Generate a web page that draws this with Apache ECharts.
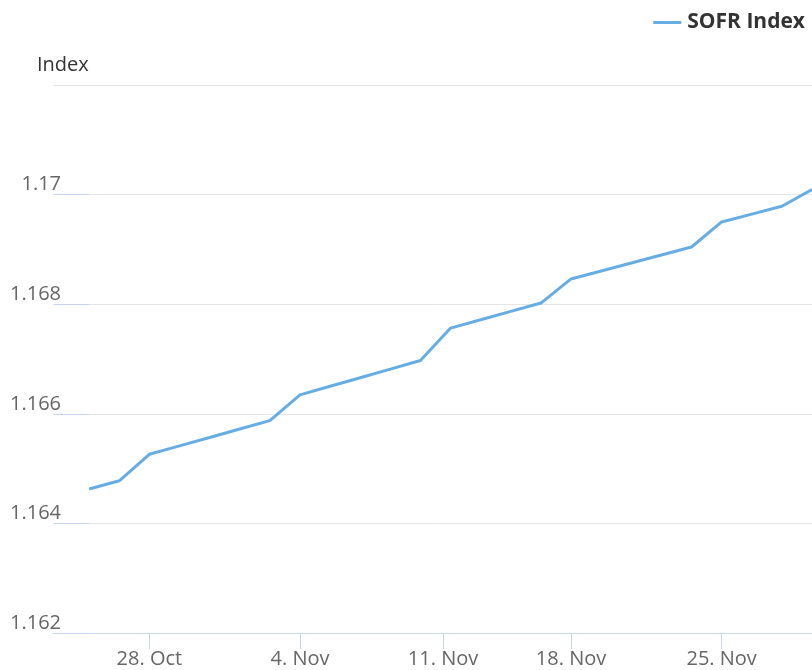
<!DOCTYPE html>
<html>
<head>
<meta charset="utf-8">
<script src="https://cdn.jsdelivr.net/npm/echarts@6/dist/echarts.min.js"></script>
<style>
  html, body { margin: 0; padding: 0; background: #fff; }
  #chart { width: 812px; height: 670px; }
</style>
</head>
<body>
<div id="chart"></div>
<script>
// business days published (ordinal x axis, no weekends / holidays)
var dates = [
  '2024-10-24', '2024-10-25', '2024-10-28', '2024-10-29', '2024-10-30', '2024-10-31', '2024-11-01',
  '2024-11-04', '2024-11-05', '2024-11-06', '2024-11-07', '2024-11-08',
  '2024-11-12', '2024-11-13', '2024-11-14', '2024-11-15',
  '2024-11-18', '2024-11-19', '2024-11-20', '2024-11-21', '2024-11-22',
  '2024-11-25', '2024-11-26', '2024-11-27', '2024-11-29'
]
var sofrIndex = [
  1.164627, 1.164778, 1.165261, 1.165415, 1.165568, 1.165722, 1.165875,
  1.166345, 1.166502, 1.166659, 1.166815, 1.166972,
  1.167564, 1.167716, 1.167869, 1.168021,
  1.168461, 1.168607, 1.168752, 1.168898, 1.169044,
  1.169501, 1.169644, 1.169787, 1.170092
]
var tickDates = ['2024-10-28', '2024-11-04', '2024-11-11', '2024-11-18', '2024-11-25']
var tickLabels = ['28. Oct', '4. Nov', '11. Nov', '18. Nov', '25. Nov']

// position of a date on the ordinal axis (interpolated when it has no point)
function ordinal(d) {
  var t = Date.parse(d)
  for (var i = 0; i < dates.length; i++) {
    var a = Date.parse(dates[i])
    if (a === t) return i
    if (i < dates.length - 1) {
      var b = Date.parse(dates[i + 1])
      if (t > a && t < b) return i + (t - a) / (b - a)
    }
  }
  return -1
}
var tickPos = tickDates.map(ordinal)

var font = '"Open Sans", sans-serif'
var myChart = echarts.init(document.getElementById('chart'), null, { renderer: 'canvas' })
var option = {
  animation: false,
  backgroundColor: '#fff',
  textStyle: { fontFamily: font },
  title: {
    text: 'Index',
    left: 32,
    top: 50,
    textStyle: { fontFamily: font, fontSize: 20, fontWeight: 'normal', color: '#333' }
  },
  legend: {
    right: 2,
    top: 7,
    icon: 'rect',
    itemWidth: 28,
    itemHeight: 3,
    textStyle: { fontFamily: font, fontSize: 21, fontWeight: 'bold', color: '#333', padding: [0, 0, 0, 1] },
    data: ['SOFR Index']
  },
  grid: { left: 53, right: 0, top: 85, bottom: 37, containLabel: false },
  xAxis: {
    type: 'value',
    min: -1.2,
    max: dates.length - 1,
    splitLine: { show: false },
    axisLine: { show: true, lineStyle: { color: '#ccd6eb', width: 1 } },
    axisTick: { show: true, length: 16, customValues: tickPos, lineStyle: { color: '#ccd6eb' } },
    axisLabel: {
      customValues: tickPos,
      margin: 16,
      fontFamily: font,
      fontSize: 20,
      color: '#666',
      formatter: function (v) {
        var k = tickPos.findIndex(function (p) { return Math.abs(p - v) < 1e-6 })
        return k >= 0 ? tickLabels[k] : ''
      }
    }
  },
  yAxis: {
    type: 'value',
    min: 1.162,
    max: 1.172,
    interval: 0.002,
    offset: -35,
    axisLine: { show: false },
    axisTick: { show: true, inside: false, length: 35, lineStyle: { color: '#c8d2ee' } },
    splitLine: { lineStyle: { color: '#e6e6e6' } },
    axisLabel: {
      showMaxLabel: false,
      margin: 27,
      verticalAlign: 'bottom',
      fontFamily: font,
      fontSize: 20,
      color: '#666',
      formatter: function (v) { return String(+v.toFixed(3)) }
    }
  },
  series: [{
    name: 'SOFR Index',
    type: 'line',
    symbol: 'none',
    color: '#66ade4',
    lineStyle: { width: 3 },
    data: dates.map(function (d, i) { return [i, sofrIndex[i]] })
  }]
}
myChart.setOption(option)
</script>
</body>
</html>
